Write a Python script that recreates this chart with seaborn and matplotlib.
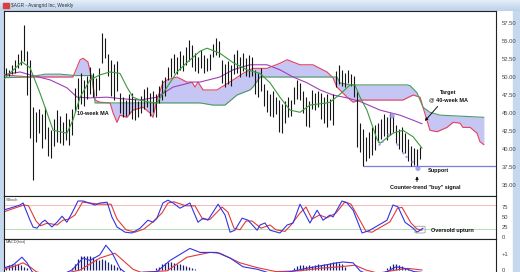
import numpy as np
import matplotlib
matplotlib.use("Agg")
import matplotlib.pyplot as plt
from matplotlib.patches import FancyBboxPatch, Rectangle
import seaborn as sns

sns.set_theme(style="white")
plt.rcParams['font.family'] = ['Liberation Sans', 'DejaVu Sans']

# ---------------- data (week index based) ----------------
highs = [51.3, 51.0, 51.6, 52.4, 53.2, 53.8, 57.2, 53.6, 52.4, 45.8,
         45.2, 45.6, 44.8, 45.9, 43.0, 42.6, 44.2, 45.4, 44.6, 43.8,
         45.0, 44.2, 45.6, 48.5, 49.8, 50.5, 49.6, 50.2, 51.4, 50.6,
         49.8, 51.2, 56.1, 55.4, 53.2, 52.4, 51.8, 52.2, 47.8, 47.2,
         46.8, 47.6, 47.8, 47.0, 46.6, 47.4, 48.4, 48.6, 47.8, 48.0,
         47.6, 48.8, 49.6, 50.0, 51.4, 52.6, 53.2, 52.8, 53.6, 53.0,
         54.2, 55.1, 54.4, 53.4, 52.8, 53.7, 53.0, 52.6, 53.2, 54.6,
         55.4, 55.0, 52.4, 51.8, 52.2, 51.6, 53.2, 53.7, 52.8, 53.4,
         52.6, 53.0, 52.8, 51.0, 50.6, 51.2, 49.0, 48.2, 47.6, 48.0,
         47.2, 46.8, 46.2, 46.6, 47.2, 46.8, 48.6, 49.6, 49.2, 48.0,
         47.2, 46.6, 48.2, 47.8, 48.0, 47.8, 47.2, 47.6, 47.0, 47.6,
         50.8, 51.6, 51.0, 50.6, 51.0, 50.4, 50.2, 48.0, 43.6, 42.8,
         41.6, 42.4, 43.0, 43.4, 43.6, 44.2, 44.8, 44.4, 45.0, 44.6,
         43.4, 42.8, 43.0, 42.2, 41.4, 40.4, 40.2, 40.0, 40.3]
lows = [50.3, 50.1, 50.4, 50.6, 51.2, 51.6, 52.2, 47.5, 41.5, 35.7,
        41.0, 42.2, 40.2, 41.4, 39.0, 38.8, 40.4, 41.0, 40.8, 40.5,
        41.2, 40.6, 42.0, 45.2, 45.6, 46.2, 46.0, 47.0, 47.6, 47.2,
        47.4, 48.2, 52.0, 52.6, 50.2, 47.4, 46.8, 48.0, 45.0, 44.4,
        44.6, 44.8, 44.2, 44.0, 44.5, 45.0, 45.6, 45.8, 44.6, 45.2,
        44.4, 46.4, 46.8, 47.4, 49.6, 50.0, 50.6, 50.4, 51.0, 50.8,
        51.6, 52.2, 51.4, 50.8, 50.6, 51.2, 50.5, 50.8, 51.0, 52.8,
        53.0, 52.8, 49.2, 48.6, 49.0, 48.8, 50.4, 50.6, 50.0, 50.8,
        50.2, 50.0, 50.2, 47.6, 47.2, 48.0, 46.0, 45.2, 44.6, 44.4,
        44.8, 42.4, 42.2, 43.6, 44.4, 44.6, 46.2, 47.0, 46.8, 45.0,
        43.2, 43.0, 45.6, 45.4, 45.8, 44.2, 43.6, 43.0, 44.0, 43.4,
        48.6, 49.0, 48.8, 48.6, 49.2, 48.8, 47.2, 40.3, 39.6, 37.6,
        38.4, 38.8, 39.2, 39.8, 41.0, 41.4, 41.8, 41.2, 42.0, 42.4,
        40.8, 40.0, 39.6, 39.4, 38.4, 37.6, 37.8, 37.6, 38.6]

ma10_w = [-1, 5.3, 8, 11.3, 13.7, 15.7, 20.3, 22.3, 24.7, 28, 31.3, 34.7, 38, 40.3, 42.3,
          44.7, 48, 50.3, 53.7, 57, 60.3, 64.7, 67, 71.3, 75.7, 80.3, 84.7, 88, 91.3,
          94.7, 98, 101.3, 107, 108, 111.3, 114.7, 116.3, 118, 120.3, 123.7, 124.7, 129,
          132.3, 135.7, 138.7]
ma10_v = [49.6, 52.1, 51.3, 47.8, 45.0, 42.6, 42.2, 44.0, 47.2, 49.6, 50.3, 50.7, 50.5, 48.6,
          47.2, 46.8, 46.5, 46.4, 48.6, 50.7, 52.0, 53.6, 54.0, 53.3, 52.0, 51.0, 50.5, 49.2,
          47.2, 45.4, 45.1, 46.1, 46.4, 46.5, 47.6, 48.9, 48.9, 47.2, 45.4, 41.3, 40.8, 42.2,
          42.6, 41.7, 40.1]

ma40_w = [-1, 4.7, 8, 14.7, 20.3, 23.7, 28, 33.7, 38, 44.7, 50.3, 55.7, 62.3, 64.7, 71.3,
          75.7, 81.3, 87, 91.3, 95.7, 100.3, 104.7, 109, 113.7, 118, 124.7, 131.3, 135.7, 138.7]
ma40_v = [50.3, 50.7, 50.3, 49.6, 48.5, 47.2, 47.1, 47.2, 47.0, 46.8, 47.2, 48.6, 49.3, 49.3,
          50.0, 51.0, 51.7, 51.7, 51.0, 50.0, 49.2, 48.2, 47.5, 47.1, 46.6, 45.4, 44.7, 44.0, 43.5]

span_red_w = [-1, 8, 14.7, 22.3, 24.7, 25.7, 27.3, 28.7, 29.7, 31.3, 34.7, 35.7, 37, 38, 40.3,
              42.3, 45.7, 48, 49, 50.3, 52.3, 53.7, 57, 60.3, 62, 63, 64, 65.7, 70.3, 75.7,
              79, 82.3, 87, 91.3, 93.7, 98, 102.3, 107, 109, 110.3, 113.7, 115.7, 118, 127,
              132.3, 135.7, 138, 139, 140.3, 141.3, 143.7, 147, 149, 151.3, 152.3, 154.7,
              157, 158, 159.3]
span_red_v = [50.3, 50.0, 50.0, 50.0, 52.4, 52.6, 52.1, 49.6, 46.8, 46.5, 46.4, 45.0, 43.7,
              44.7, 44.4, 45.4, 45.8, 45.0, 44.4, 46.8, 49.2, 49.6, 50.0, 49.3, 49.3, 48.6,
              49.3, 48.2, 48.2, 49.6, 50.5, 51.2, 51.2, 51.9, 52.4, 51.7, 51.7, 50.7, 49.9,
              48.6, 47.2, 46.5, 46.8, 46.8, 46.8, 47.5, 47.2, 45.8, 44.0, 42.6, 42.4, 43.0,
              43.7, 43.6, 43.0, 43.0, 42.2, 41.0, 40.6]

span_grn_w = [-1, 8, 13, 18, 23, 28.7, 29.7, 64.7, 69, 73, 77, 81.3, 82.3, 84.7, 110.3, 111.3,
              114.7, 133.7, 134.7, 137, 139, 141.3, 144.7, 159.3]
span_grn_v = [49.9, 50.0, 50.4, 50.4, 50.2, 50.2, 46.4, 46.4, 46.1, 46.1, 47.5, 48.2, 48.6,
              50.0, 50.0, 49.2, 48.9, 48.9, 48.8, 47.8, 45.8, 45.1, 44.7, 44.4]

support_level = 37.6
signal_w = [124.5, 125.5, 127.5, 128.7, 130.5, 132.5, 133.5, 135.5, 137.3]
signal_v = [40.6, 41.0, 42.0, 44.6, 40.6, 39.4, 38.9, 38.2, 37.3]

stk_w = [-1, 1.3, 4.7, 5.7, 8, 9, 10.3, 12, 13, 15.3, 17, 18.7, 20.3, 22, 24, 25.7, 29.7,
         31.3, 33.7, 35.3, 37, 39.7, 42, 44.7, 47.3, 49, 50.3, 52.3, 54, 55.7, 58, 61.3, 64,
         65.7, 67.3, 70.7, 73, 74.7, 76.3, 78.7, 80.7, 83.7, 84.7, 86.3, 88, 91.3, 93.7,
         95.7, 98, 101.3, 103.7, 105.7, 108, 109, 112, 113.7, 115.7, 118.7, 121.3, 127, 129,
         130.7, 133, 135.7, 137, 138, 139]
stk_k = [67, 72, 80, 85, 42, 25, 22, 37, 42, 25, 37, 52, 37, 60, 90, 90, 80, 85, 87, 50, 25,
         12, 10, 22, 42, 37, 47, 85, 92, 85, 72, 85, 37, 47, 42, 82, 55, 12, 17, 47, 42, 17,
         30, 35, 17, 10, 30, 35, 82, 35, 67, 42, 55, 50, 90, 85, 67, 10, 17, 42, 80, 75, 37,
         22, 12, 17, 22]
std_w = [-1, 2, 6, 7.5, 10, 11.5, 13.5, 15, 17, 19, 21, 23, 25.5, 28, 31, 35, 37, 40, 43, 46,
         49, 52, 54, 56, 60, 63, 65.5, 68, 72, 74, 76, 78, 80, 82, 85, 88, 90, 93, 95, 98,
         100, 102, 104.5, 107, 110, 113, 115, 117, 120, 122, 128, 130.5, 132, 135, 137, 138.7]
std_d = [62, 70, 80, 78, 40, 28, 34, 33, 30, 42, 45, 55, 87, 85, 82, 82, 45, 18, 12, 20, 38,
         60, 85, 88, 78, 78, 45, 44, 75, 62, 22, 18, 40, 40, 22, 30, 18, 14, 30, 60, 75, 45,
         55, 48, 60, 88, 82, 55, 14, 12, 38, 72, 74, 35, 20, 17]

macd_w = [-1, 2.3, 5.3, 7, 8.7, 10, 15, 22, 25.7, 28, 31.3, 33.3, 35.3, 38, 40, 50.3, 54.7,
          61.3, 64.7, 70.3, 74.7, 79, 83.7, 88, 95, 100, 106, 110.3, 112.3, 115.7, 118, 122,
          127, 130, 133, 136, 138.7]
macd_v = [0.12, 0.3, 0.8, 0.45, -0.1, -0.3, -0.6, 0.0, 0.75, 0.6, 0.95, 1.55, 1.1, 0.1, -0.2,
          -0.1, 0.6, 1.35, 1.1, 1.1, 0.75, 0.2, 0.05, -0.2, -0.1, 0.1, 0.3, 0.45, 0.5, 0.45,
          -0.05, -0.4, -0.1, 0.2, 0.1, -0.1, -0.15]
sig_w = [-1, 2.3, 5.7, 8, 10, 15, 24.7, 31.3, 36.3, 39, 42.3, 45, 53.7, 60.3, 68, 71.3, 78,
         83.7, 90, 98, 104, 111.3, 116.3, 120, 124, 130, 134, 138.7]
sig_v = [0.05, 0.2, 0.45, 0.2, -0.1, -0.4, 0.0, 0.75, 1.05, 0.6, 0.05, -0.15, -0.05, 0.8,
         1.1, 1.05, 0.45, 0.15, -0.1, -0.05, 0.1, 0.2, 0.3, 0.0, -0.2, 0.0, 0.1, 0.0]
hist = [0.2, 0.3, 0.35, 0.4, 0.35, 0.3, 0.2, 0.1, 0.0, 0, 0, 0, 0, 0, 0, 0, 0, 0, 0, 0, 0, 0,
        0.1, 0.4, 0.7, 0.85, 0.9, 0.9, 0.85, 0.8, 0.7, 0.6, 0.7, 0.6, 0.5, 0.4, 0.3, 0.2, 0.1,
        0, 0, 0, 0, 0, 0, 0, 0, 0, 0, 0, 0.1, 0.2, 0.35, 0.45, 0.5, 0.5, 0.45, 0.4, 0.35, 0.3,
        0.25, 0.2, 0.1, 0.05, 0, 0, 0, 0, 0, 0, 0, 0, 0, 0, 0, 0, 0, 0, 0, 0, 0, 0, 0, 0, 0, 0,
        0, 0, 0, 0, 0, 0, 0, 0, 0, 0, 0.15, 0.25, 0.3, 0.3, 0.25, 0.3, 0.25, 0.3, 0.35, 0.3,
        0.35, 0.4, 0.45, 0.5, 0.5, 0.45, 0.35, 0.2, 0, 0, 0, 0, 0, 0, 0, 0, 0, 0, 0, 0, 0, 0.1,
        0.25, 0.35, 0.35, 0.3, 0.25, 0.15, 0.05, 0, 0, 0, 0]

price_ticks = [35.0, 37.5, 40.0, 42.5, 45.0, 47.5, 50.0, 52.5, 55.0, 57.5]
stoch_ticks = [0, 25, 50, 75]

# ---------------- figure ----------------
W, H = 520, 272
fig = plt.figure(figsize=(W / 100, H / 100), dpi=100)
fig.patch.set_facecolor('white')

def px_axes(l, t, r, b, **kw):
    return fig.add_axes([l / W, 1 - b / H, (r - l) / W, (b - t) / H], **kw)

# window frame / title bar
bg = px_axes(0, 0, W, H)
bg.set_xlim(0, W); bg.set_ylim(H, 0); bg.axis('off')
bg.add_patch(Rectangle((0, 0), 3.5, H, color='#c6d8ee', zorder=0))
bg.add_patch(Rectangle((513, 0), 7, H, color='#c6d8ee', zorder=0))
grad = np.linspace(0, 1, 20).reshape(-1, 1)
bg.imshow(grad, extent=(0, W, 11, 0), aspect='auto', cmap=matplotlib.colors.LinearSegmentedColormap.from_list('tb', ['#e4eef9', '#bcd1ea']), zorder=1)
bg.add_patch(Rectangle((3, 3), 6, 5, color='#d84040', zorder=2))
bg.text(11, 6, '$AGR - Avangrid Inc, Weekly', fontsize=3.4, color='#303030', va='center', ha='left', zorder=3)
bg.set_xlim(0, W); bg.set_ylim(H, 0)

XMIN, XMAX = -2 / 3, 163.33
wk = np.arange(len(highs))

def style(ax):
    ax.set_xlim(XMIN, XMAX)
    ax.set_facecolor('white')
    ax.set_xticks([])
    ax.yaxis.tick_right()
    ax.tick_params(axis='y', length=0, labelsize=4.2, pad=4, labelcolor='#444444')
    for s in ax.spines.values():
        s.set_color('#222222'); s.set_linewidth(0.8)
    ax.set_xlabel(''); ax.set_ylabel('')

# ---- main price panel ----
ax = px_axes(4, 11, 496, 196)
style(ax)
ax.set_ylim(33.47, 59.17)
gx = np.linspace(-1, 159.3, 800)
r_i = np.interp(gx, span_red_w, span_red_v)
g_i = np.interp(gx, span_grn_w, span_grn_v)
ax.fill_between(gx, r_i, g_i, color='#c6c6f5', lw=0, zorder=1)
sns.lineplot(x=span_red_w, y=span_red_v, ax=ax, color='#e8405a', lw=0.8, zorder=2, legend=False)
sns.lineplot(x=span_grn_w, y=span_grn_v, ax=ax, color='#4f9a62', lw=0.8, zorder=2, legend=False)
sns.lineplot(x=ma40_w, y=ma40_v, ax=ax, color='#a040b8', lw=0.8, zorder=3, legend=False)
ax.vlines(wk, lows, highs, color='#151515', lw=0.8, zorder=4)
sns.lineplot(x=ma10_w, y=ma10_v, ax=ax, color='#3a9a3a', lw=0.8, zorder=5, legend=False)
ax.hlines(support_level, 119, XMAX, color='#7c7cdc', lw=0.9, zorder=3)
ax.scatter(signal_w, signal_v, s=[3, 3, 3, 14, 3, 3, 3, 3, 14], color='#8f8ff0', alpha=0.8, lw=0, zorder=6)
ax.set_yticks(price_ticks)
ax.set_yticklabels([f'{t:.2f}' for t in price_ticks])
ax.set_xlim(XMIN, XMAX)
ax.set_xlabel(''); ax.set_ylabel('')

fb = dict(fontsize=4, fontweight='bold', color='#111111')
ax.text(23.7, 45.0, '10-week MA', ha='left', va='center', **fb)
ax.text(147.5, 47.8, 'Target', ha='center', va='center', **fb)
ax.text(147.5, 46.8, '@ 40-week MA', ha='center', va='center', **fb)
ax.annotate('', xy=(139.0, 43.6), xytext=(144.5, 46.2),
            arrowprops=dict(arrowstyle='-|>', color='#111111', lw=0.7, mutation_scale=4))
ax.text(140.5, 37.0, 'Support', ha='left', va='center', **fb)
ax.annotate('', xy=(137.0, 36.6), xytext=(137.0, 35.1),
            arrowprops=dict(arrowstyle='-|>', color='#111111', lw=0.7, mutation_scale=4))
ax.text(139.8, 34.6, 'Counter-trend "buy" signal', ha='center', va='center', **fb)

# ---- stochastic panel ----
ax2 = px_axes(4, 196, 496, 239)
style(ax2)
ax2.set_ylim(-5, 102.5)
ax2.axhline(80, color='#f6b8b8', lw=0.7, zorder=1)
ax2.axhline(20, color='#b5dcb5', lw=0.7, zorder=1)
sns.lineplot(x=std_w, y=std_d, ax=ax2, color='#e23a3a', lw=0.8, zorder=2, legend=False)
sns.lineplot(x=stk_w, y=stk_k, ax=ax2, color='#3434e0', lw=0.8, zorder=3, legend=False)
ax2.set_yticks(stoch_ticks)
ax2.set_yticklabels([str(t) for t in stoch_ticks])
ax2.add_patch(FancyBboxPatch((136.3, 10), 3.4, 17, boxstyle='round,pad=0,rounding_size=1',
                             fill=False, ec='#909090', lw=0.5, zorder=4))
ax2.text(141.5, 16, 'Oversold upturn', ha='left', va='center', **fb)
ax2.text(0.0, 97, 'SStoch', fontsize=2.8, color='#444444', ha='left', va='top')
ax2.set_xlim(XMIN, XMAX)
ax2.set_xlabel(''); ax2.set_ylabel('')

# ---- MACD panel ----
ax3 = px_axes(4, 239, 496, 272)
style(ax3)
ax3.set_ylim(-0.125, 1.94)
ax3.vlines(wk, 0, hist, color='#1c1c70', lw=0.9, zorder=2)
sns.lineplot(x=sig_w, y=sig_v, ax=ax3, color='#e23a3a', lw=0.8, zorder=3, legend=False)
sns.lineplot(x=macd_w, y=macd_v, ax=ax3, color='#3434e0', lw=0.8, zorder=4, legend=False)
ax3.set_yticks([0, 1])
ax3.set_yticklabels(['0', '+1'])
ax3.text(0.0, 1.85, 'MACD(hist)', fontsize=2.8, color='#444444', ha='left', va='top')
ax3.spines['bottom'].set_visible(False)
ax3.set_xlim(XMIN, XMAX)
ax3.set_xlabel(''); ax3.set_ylabel('')

fig.savefig('out.png', dpi=100, facecolor='white')
